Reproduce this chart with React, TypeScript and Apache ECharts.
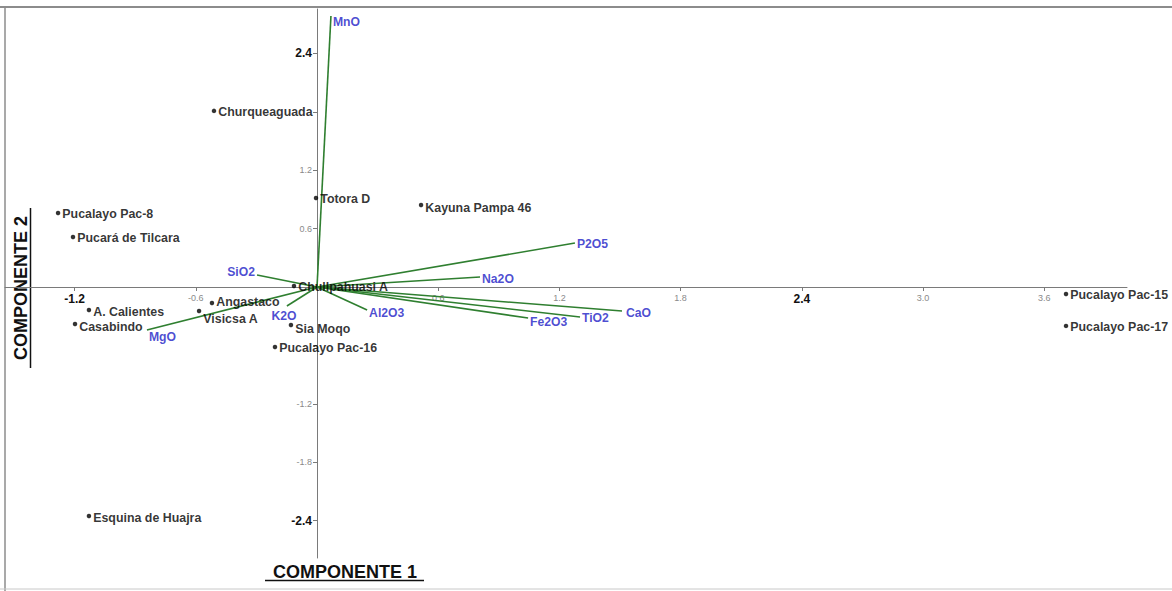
import React, { useEffect, useRef } from "react";
import * as echarts from "echarts";

// Sample scores on the first two principal components
const sampleNames = [
  "Churqueaguada", "Totora D", "Pucalayo Pac-8", "Pucará de Tilcara", "Kayuna Pampa 46",
  "Chullpahuasi A", "Angastaco", "A. Calientes", "Casabindo", "Visicsa A",
  "Sia Moqo", "Pucalayo Pac-16", "Esquina de Huajra", "Pucalayo Pac-15", "Pucalayo Pac-17",
];
const sampleC1 = [-0.51, -0.005, -1.282, -1.208, 0.515, -0.114, -0.52, -1.129, -1.198, -0.584, -0.129, -0.208, -1.129, 3.708, 3.708];
const sampleC2 = [1.81, 0.915, 0.76, 0.514, 0.843, 0.01, -0.164, -0.236, -0.38, -0.247, -0.39, -0.617, -2.354, -0.072, -0.4];

// Oxide loadings (vector end points)
const oxideNames = ["MnO", "SiO2", "MgO", "K2O", "Al2O3", "P2O5", "Na2O", "CaO", "TiO2", "Fe2O3"];
const oxideC1 = [0.069, -0.297, -0.842, -0.149, 0.248, 1.277, 0.807, 1.51, 1.302, 1.045];
const oxideC2 = [2.785, 0.123, -0.442, -0.195, -0.236, 0.452, 0.103, -0.247, -0.308, -0.319];

// Axis ticks and labels
const xTicks = [-1.2, -0.6, 0.6, 1.2, 1.8, 2.4, 3.0, 3.6];
const xLabels = [-1.2, -0.6, 0.6, 1.2, 1.8, 2.4, 3.0, 3.6];
const xBold = [-1.2, 2.4];
const yTicks = [2.4, 1.8, 1.2, 0.6, -0.6, -1.2, -1.8, -2.4];
const yLabels = [2.4, 1.2, 0.6, -1.2, -1.8, -2.4];
const yBold = [2.4, -2.4];

const FONT = "'Liberation Sans', Arial, sans-serif";
const GREEN = "#2f7f30";
const BLUE = "#1d1dc6";

// plot frame in pixels: the axes cross at the origin inside it
const GRID = { left: 5, right: 45, top: 9, bottom: 33 };
const X_MIN = -1.5446;
const X_MAX = 4.0099;
const Y_MIN = -2.785;
const Y_MAX = 2.857;
const PLOT_W = 1172 - GRID.left - GRID.right;
const PLOT_H = 591 - GRID.top - GRID.bottom;
const originX = (-X_MIN / (X_MAX - X_MIN)) * PLOT_W; // from grid left
const originY = (-Y_MIN / (Y_MAX - Y_MIN)) * PLOT_H; // from grid bottom

// label placement tweaks per point
const sampleLabelOffset: Record<string, number[]> = {
  "Visicsa A": [0, 8],
  "Casabindo": [0, 3],
  "Kayuna Pampa 46": [0, 3],
  "Sia Moqo": [0, 4],
  "A. Calientes": [0, 2],
  "Esquina de Huajra": [0, 2],
  "Angastaco": [0, -1],
};
const oxideLabelPos: Record<string, { position: string; offset: number[] }> = {
  MnO: { position: "right", offset: [0, 6] },
  SiO2: { position: "left", offset: [0, -3] },
  MgO: { position: "right", offset: [0, 7] },
  K2O: { position: "bottom", offset: [-3, 2] },
  Al2O3: { position: "right", offset: [0, 3] },
  P2O5: { position: "right", offset: [0, 1] },
  Na2O: { position: "right", offset: [0, 2] },
  CaO: { position: "right", offset: [2, 2] },
  TiO2: { position: "right", offset: [0, 1] },
  Fe2O3: { position: "right", offset: [0, 4] },
};

const makeFormatter = (bold: number[]) => (v: number) => {
  const r = Math.round(v * 10) / 10;
  const s = r.toFixed(1);
  return bold.includes(r) ? `{b|${s}}` : `{s|${s}}`;
};
const tickRich = {
  b: { fontFamily: FONT, fontWeight: "bold", fontSize: 12, color: "#111" },
  s: { fontFamily: FONT, fontSize: 9, color: "#8a8a8a" },
};

export default function App() {
  const ref = useRef<HTMLDivElement>(null);

  useEffect(() => {
    if (!ref.current) return;
    const chart = echarts.init(ref.current, undefined, { renderer: "svg" });

    const vectorLines = oxideNames.map((n, i) => ({
      coords: [[0, 0], [oxideC1[i], oxideC2[i]]],
    }));

    const option: any = {
      animation: false,
      backgroundColor: "#ffffff",
      grid: { ...GRID, containLabel: false, outerBoundsMode: "none" },
      xAxis: {
        type: "value",
        min: X_MIN,
        max: X_MAX,
        position: "bottom",
        offset: -originY,
        axisLine: { onZero: false, lineStyle: { color: "#7a7a7a", width: 1 } },
        axisTick: { show: true, length: 4, customValues: xTicks, lineStyle: { color: "#7a7a7a" } },
        axisLabel: {
          customValues: xLabels,
          margin: 6,
          formatter: makeFormatter(xBold),
          rich: tickRich,
        },
        splitLine: { show: false },
      },
      yAxis: {
        type: "value",
        min: Y_MIN,
        max: Y_MAX,
        position: "left",
        offset: -originX,
        axisLine: { onZero: false, lineStyle: { color: "#7a7a7a", width: 1 } },
        axisTick: { show: true, length: 4, customValues: yTicks, lineStyle: { color: "#7a7a7a" } },
        axisLabel: {
          customValues: yLabels,
          margin: 5,
          formatter: makeFormatter(yBold),
          rich: tickRich,
        },
        splitLine: { show: false },
      },
      series: [
        {
          type: "lines",
          coordinateSystem: "cartesian2d",
          polyline: false,
          silent: true,
          lineStyle: { color: GREEN, width: 1.6, opacity: 1 },
          data: vectorLines,
          z: 2,
        },
        {
          type: "scatter",
          symbolSize: 0,
          silent: true,
          z: 3,
          data: oxideNames.map((n, i) => ({
            value: [oxideC1[i], oxideC2[i]],
            name: n,
            label: {
              show: true,
              position: oxideLabelPos[n].position,
              offset: oxideLabelPos[n].offset,
              distance: 2,
              formatter: n,
              fontFamily: FONT,
              fontWeight: "bold",
              fontSize: 12.2,
              color: BLUE,
            },
          })),
        },
        {
          type: "scatter",
          symbol: "circle",
          symbolSize: 4.5,
          itemStyle: { color: "#000" },
          silent: true,
          z: 4,
          data: sampleNames.map((n, i) => ({
            value: [sampleC1[i], sampleC2[i]],
            name: n,
            label: {
              show: true,
              position: "right",
              distance: 2,
              offset: sampleLabelOffset[n] || [0, 1],
              formatter: n,
              fontFamily: FONT,
              fontWeight: "bold",
              fontSize: 12.4,
              color: "#000",
            },
          })),
        },
      ],
      graphic: [
        // frame
        { type: "line", shape: { x1: 0, y1: 7, x2: 1172, y2: 7 }, style: { stroke: "#8c8c8c", lineWidth: 2 } },
        { type: "line", shape: { x1: 5, y1: 7, x2: 5, y2: 591 }, style: { stroke: "#8c8c8c", lineWidth: 1.5 } },
        { type: "line", shape: { x1: 0, y1: 589, x2: 1172, y2: 589 }, style: { stroke: "#c8c8c8", lineWidth: 1 } },
        // axis titles
        {
          type: "text",
          x: 345,
          y: 572,
          style: {
            text: "COMPONENTE 1",
            fontFamily: FONT,
            fontWeight: "bold",
            fontSize: 18,
            fill: "#111",
            align: "center",
            verticalAlign: "middle",
          },
        },
        { type: "line", shape: { x1: 265, y1: 580.5, x2: 424, y2: 580.5 }, style: { stroke: "#111", lineWidth: 1.5 } },
        {
          type: "text",
          x: 21,
          y: 288,
          rotation: Math.PI / 2,
          style: {
            text: "COMPONENTE 2",
            fontFamily: FONT,
            fontWeight: "bold",
            fontSize: 18,
            fill: "#111",
            align: "center",
            verticalAlign: "middle",
          },
        },
        { type: "line", shape: { x1: 30.5, y1: 208, x2: 30.5, y2: 368 }, style: { stroke: "#111", lineWidth: 1.5 } },
      ],
    };

    chart.setOption(option);
    return () => chart.dispose();
  }, []);

  return (
    <div
      ref={ref}
      style={{ position: "fixed", left: 0, top: 0, width: 1172, height: 591, background: "#fff" }}
    />
  );
}
